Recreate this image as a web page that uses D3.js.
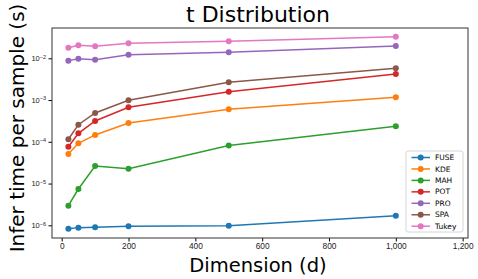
<!DOCTYPE html>
<html>
<head>
<meta charset="utf-8">
<script src="https://cdn.jsdelivr.net/npm/d3@7"></script>
<style>
  body { margin: 0; background: #fff; }
  svg { font-family: "DejaVu Sans", sans-serif; }
</style>
</head>
<body>
<div id="chart"></div>
<script>
// 次元 (x 軸)
const dims = [20, 50, 100, 200, 500, 1000]
const methods = ['FUSE', 'KDE', 'MAH', 'POT', 'PRO', 'SPA', 'Tukey']
const colors = ['#1f77b4', '#ff7f0e', '#2ca02c', '#d62728', '#9467bd', '#8c564b', '#e377c2']

// 各手法の推論時間 (s)
const fuse  = [8.3e-7, 8.8e-7, 9.0e-7, 9.5e-7, 9.8e-7, 1.70e-6]
const kde   = [5.1e-5, 9.2e-5, 1.46e-4, 2.82e-4, 6.0e-4, 1.16e-3]
const mah   = [2.95e-6, 7.4e-6, 2.63e-5, 2.27e-5, 8.2e-5, 2.35e-4]
const pot   = [7.6e-5, 1.60e-4, 3.15e-4, 6.7e-4, 1.58e-3, 4.21e-3]
const pro   = [8.8e-3, 9.8e-3, 9.25e-3, 1.22e-2, 1.39e-2, 1.97e-2]
const spa   = [1.15e-4, 2.57e-4, 4.9e-4, 9.9e-4, 2.66e-3, 5.75e-3]
const tukey = [1.79e-2, 2.05e-2, 1.94e-2, 2.29e-2, 2.55e-2, 3.29e-2]
const series = [fuse, kde, mah, pot, pro, spa, tukey]

const xTicks = [0, 200, 400, 600, 800, 1000, 1200]
const yTicks = [-6, -5, -4, -3, -2]

const width = 478, height = 279
const margin = { left: 52, right: 10, top: 28, bottom: 41 }

const svg = d3.select('#chart')
  .append('svg')
  .attr('width', width)
  .attr('height', height)

const x = d3.scaleLinear()
  .domain([-29, 1216])
  .range([margin.left, width - margin.right])

const y = d3.scaleLog()
  .domain([Math.pow(10, -6.304), Math.pow(10, -1.274)])
  .range([height - margin.bottom, margin.top])

// 軸
const xAxis = svg.append('g')
  .attr('transform', `translate(0,${height - margin.bottom})`)
  .call(d3.axisBottom(x).tickValues(xTicks).tickSize(3.5).tickPadding(2))
xAxis.selectAll('text').attr('font-size', 8.3).attr('fill', '#222')

const yAxis = svg.append('g')
  .attr('transform', `translate(${margin.left},0)`)
  .call(d3.axisLeft(y).tickValues(yTicks.map(e => Math.pow(10, e))).tickSize(3.5).tickPadding(3).tickFormat(''))
yAxis.selectAll('.tick').each(function (d) {
  const t = d3.select(this).append('text')
    .attr('x', -6).attr('dy', '0.32em')
    .attr('text-anchor', 'end')
    .attr('fill', '#222')
    .attr('font-size', 7.5)
  t.append('tspan').text('10')
  t.append('tspan').attr('dy', '-0.45em').attr('font-size', 5.5).text('\u2212' + Math.round(-Math.log10(d)))
})
svg.selectAll('.domain').remove()

// 枠線
svg.append('rect')
  .attr('x', margin.left).attr('y', margin.top)
  .attr('width', width - margin.left - margin.right)
  .attr('height', height - margin.top - margin.bottom)
  .attr('fill', 'none')
  .attr('stroke', '#333')
  .attr('stroke-width', 1)

const line = d3.line()
  .x((d, i) => x(dims[i]))
  .y(d => y(d))

series.forEach((s, k) => {
  svg.append('path')
    .attr('d', line(s))
    .attr('fill', 'none')
    .attr('stroke', colors[k])
    .attr('stroke-width', 1.5)
  svg.selectAll(null)
    .data(s)
    .enter()
    .append('circle')
      .attr('cx', (d, i) => x(dims[i]))
      .attr('cy', d => y(d))
      .attr('r', 3)
      .attr('fill', colors[k])
})

// タイトル・ラベル
svg.append('text')
  .attr('x', 258).attr('y', 22)
  .attr('text-anchor', 'middle')
  .attr('font-size', 22)
  .text('t Distribution')

svg.append('text')
  .attr('x', 258).attr('y', 272)
  .attr('text-anchor', 'middle')
  .attr('font-size', 19.5)
  .text('Dimension (d)')

svg.append('text')
  .attr('transform', `translate(24,${(margin.top + height - margin.bottom) / 2 - 5}) rotate(-90)`)
  .attr('text-anchor', 'middle')
  .attr('font-size', 20)
  .text('Infer time per sample (s)')

// 凡例
const legend = svg.append('g')
legend.append('rect')
  .attr('x', 406).attr('y', 151)
  .attr('width', 57).attr('height', 81)
  .attr('rx', 2)
  .attr('fill', '#fff')
  .attr('stroke', '#ccc')
  .attr('stroke-width', 0.8)
methods.forEach((m, k) => {
  const ly = 157.5 + k * 11.45
  legend.append('line')
    .attr('x1', 411.5).attr('x2', 430)
    .attr('y1', ly).attr('y2', ly)
    .attr('stroke', colors[k]).attr('stroke-width', 1.5)
  legend.append('circle')
    .attr('cx', 420.7).attr('cy', ly).attr('r', 3)
    .attr('fill', colors[k])
  legend.append('text')
    .attr('x', 435).attr('y', ly).attr('dy', '0.35em')
    .attr('font-size', 7.5)
    .text(m)
})
</script>
</body>
</html>
